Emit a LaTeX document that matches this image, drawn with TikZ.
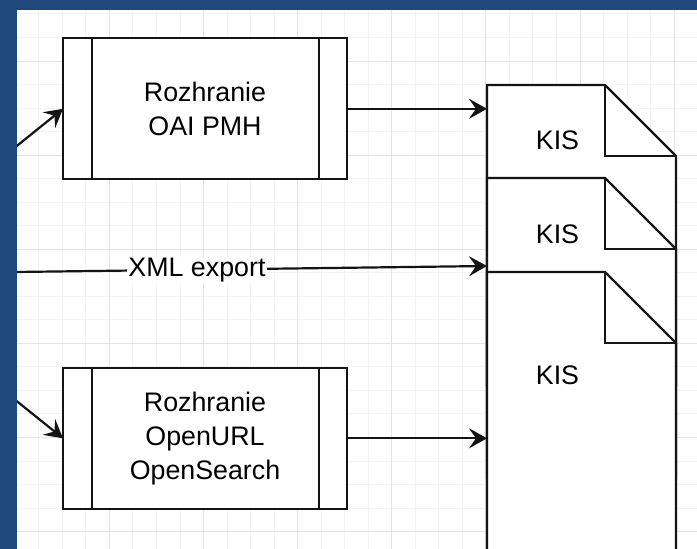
\documentclass[tikz,border=0pt]{standalone}
\usepackage{fontspec}
\setmainfont{Liberation Sans}
\usetikzlibrary{arrows.meta,calc}
\definecolor{bluebar}{RGB}{31,73,125}
\definecolor{gridminor}{RGB}{243,243,243}
\definecolor{gridmajor}{RGB}{228,228,228}
\definecolor{ink}{RGB}{20,20,20}
\newcommand\mydocshape[1]{%
  \draw[docline] (#1.north west) -- ([xshift=-71pt]#1.north east) -- ([yshift=-71pt]#1.north east) -- (#1.south east) -- (#1.south west) -- cycle;
  \draw[docline,fill=none] ([xshift=-71pt]#1.north east) -- ([xshift=-71pt,yshift=-71pt]#1.north east) -- ([yshift=-71pt]#1.north east);
}
\begin{document}
\begin{tikzpicture}[x=1pt,y=-1pt,
  txt/.style={font=\fontsize{26.8}{34}\selectfont, text=black},
  procbox/.style={txt, draw=ink, line width=2.2pt, fill=white, minimum width=284pt, minimum height=141pt, align=center, inner sep=0pt, outer sep=0pt},
  boxline/.style={draw=ink, line width=2.2pt},
  docnode/.style={minimum width=189pt, minimum height=300pt, inner sep=0pt, outer sep=0pt},
  docline/.style={draw=ink, line width=2.2pt, fill=white, line join=miter},
  conn/.style={draw=ink, line width=2.2pt, -{Stealth[length=18pt,width=20pt,inset=7pt]}},
  lbl/.style={txt, fill=white, inner sep=1pt}]
\useasboundingbox (0,0) rectangle (697,549);
\clip (0,0) rectangle (697,549);
\fill[white] (0,0) rectangle (697,549);
% grid
\foreach \k in {0,...,29} {\pgfmathsetmacro\xx{15.3+\k*23.53}
  \draw[gridminor, line width=1pt] (\xx,0) -- (\xx,549);}
\foreach \k in {0,...,23} {\pgfmathsetmacro\yy{13.94+\k*23.53}
  \draw[gridminor, line width=1pt] (0,\yy) -- (697,\yy);}
\foreach \k in {0,...,7} {\pgfmathsetmacro\xx{15.3+\k*94.12}
  \draw[gridmajor, line width=1pt] (\xx,0) -- (\xx,549);}
\foreach \k in {0,...,5} {\pgfmathsetmacro\yy{61+\k*94.12}
  \draw[gridmajor, line width=1pt] (0,\yy) -- (697,\yy);}
% process boxes
\node[procbox] (b1) at (205,108.8) {Rozhranie\\OAI PMH};
\draw[boxline] ([xshift=29pt]b1.north west) -- ([xshift=29pt]b1.south west);
\draw[boxline] ([xshift=-28pt]b1.north east) -- ([xshift=-28pt]b1.south east);
\node[procbox] (b2) at (205,438.3) {Rozhranie\\OpenURL\\OpenSearch};
\draw[boxline] ([xshift=29pt]b2.north west) -- ([xshift=29pt]b2.south west);
\draw[boxline] ([xshift=-28pt]b2.north east) -- ([xshift=-28pt]b2.south east);
% documents
\node[docnode] (doc1) at (581.5,235) {};
\mydocshape{doc1}
\node[docnode] (doc2) at (581.5,328) {};
\mydocshape{doc2}
\node[docnode] (doc3) at (581.5,422) {};
\mydocshape{doc3}
\node[txt] (k1) at ([xshift=-24pt,yshift=-55.5pt]doc1.north) {KIS};
\node[txt] (k2) at ([xshift=-24pt,yshift=-56.5pt]doc2.north) {KIS};
\node[txt] (k3) at ([xshift=-24pt,yshift=-103.5pt]doc3.north) {KIS};
% connectors
\coordinate (in1) at (-50,199.6);
\coordinate (in2) at (-50,347.5);
\coordinate (xs) at (-300,276);
\coordinate (xe) at ($(doc2.north west)+(0,88)$);
\draw[conn] (in1) -- (b1.west);
\draw[conn] (in2) -- (b2.west);
\draw[conn] (b1.east) -- (b1.east -| doc1.west);
\draw[conn] (b2.east) -- (b2.east -| doc3.west);
\draw[conn] (xs) -- node[lbl, pos=0.6315] (xl) {XML export} (xe);
% frame
\fill[bluebar] (0,0) rectangle (697,10);
\fill[bluebar] (0,0) rectangle (16.5,549);
\end{tikzpicture}
\end{document}
